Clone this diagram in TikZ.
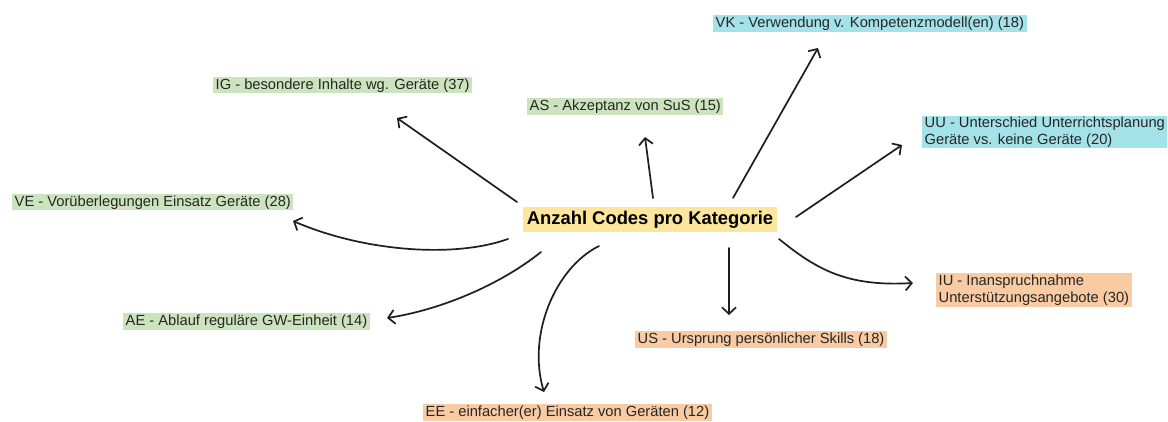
\documentclass[tikz,border=0pt]{standalone}
\usepackage{fontspec}
\setmainfont{Liberation Sans}
\usetikzlibrary{arrows.meta}

\definecolor{hlgreen}{HTML}{CCE4BE}
\definecolor{hlcyan}{HTML}{A4E2EA}
\definecolor{hlorange}{HTML}{F8CBA2}
\definecolor{hlyellow}{HTML}{FDE59C}
\definecolor{inktext}{HTML}{262626}
\definecolor{inkline}{HTML}{1E1E1E}

\newcommand\lblfont{\fontsize{14.7}{17}\selectfont}
\newcommand\hubfont{\fontsize{18.4}{21}\selectfont\bfseries}

\tikzset{
  lbl/.style={font=\lblfont, text=inktext, inner xsep=2.5pt, inner ysep=0pt,
    text height=12.5pt, text depth=4pt, anchor=west},
  lbltwo/.style={font=\lblfont, text=inktext, inner xsep=2.5pt, inner ysep=1pt,
    align=left, anchor=west},
  hub/.style={font=\hubfont, text=black, fill=hlyellow, inner sep=0pt,
    minimum width=254pt, minimum height=25pt},
  arr/.style={draw=inkline, line width=1.7pt, line cap=round,
    -{Straight Barb[length=6.5pt,width=14pt,line width=1.7pt]}}
}

\begin{document}
\begin{tikzpicture}[x=1pt,y=-1pt]
  \useasboundingbox (0,0) rectangle (1168,421);
  \fill[white] (0,0) rectangle (1168,421);

  % central category node
  \node[hub] (ctr) at (650,219.5) {Anzahl Codes pro Kategorie};

  % code labels
  \node[lbl, fill=hlgreen]  (ig) at (213,85)    {IG - besondere Inhalte wg. Geräte (37)};
  \node[lbl, fill=hlgreen]  (as) at (527,106.5) {AS - Akzeptanz von SuS (15)};
  \node[lbl, fill=hlcyan]   (vk) at (713,23.5)  {VK - Verwendung v. Kompetenzmodell(en) (18)};
  \node[lbltwo, fill=hlcyan, minimum height=32pt] (uu) at (922,132)
        {UU - Unterschied Unterrichtsplanung\\Geräte vs. keine Geräte (20)};
  \node[lbl, fill=hlgreen]  (ve) at (12,202)    {VE - Vorüberlegungen Einsatz Geräte (28)};
  \node[lbl, fill=hlgreen]  (ae) at (123,321.5) {AE - Ablauf reguläre GW-Einheit (14)};
  \node[lbl, fill=hlorange] (ee) at (423,412.5) {EE - einfacher(er) Einsatz von Geräten (12)};
  \node[lbl, fill=hlorange] (us) at (635,339.5) {US - Ursprung persönlicher Skills (18)};
  \node[lbltwo, fill=hlorange, minimum height=34pt] (iu) at (936,290)
        {IU - Inanspruchnahme\\Unterstützungsangebote (30)};

  % straight connectors
  \draw[arr] ([shift={(-133,-17.5)}]ctr.center) -- ([shift={(184,33)}]ig.west);
  \draw[arr] ([shift={(3,-21.5)}]ctr.center)    -- ([shift={(118,30.5)}]as.west);
  \draw[arr] ([shift={(83,-21.5)}]ctr.center)   -- ([shift={(105,24.5)}]vk.west);
  \draw[arr] ([shift={(146,-2.5)}]ctr.center)   -- ([shift={(-20,13)}]uu.west);
  \draw[arr] ([shift={(79,28.5)}]ctr.center)    -- ([shift={(94,-24.5)}]us.west);

  % curved connectors
  \draw[arr] ([shift={(-142,19.5)}]ctr.center)
    .. controls +(-53,19) and +(72,31) .. ([shift={(281,19)}]ve.west);
  \draw[arr] ([shift={(-109,32.5)}]ctr.center)
    .. controls +(-41,33) and +(53,-8) .. ([shift={(264,-3.5)}]ae.west);
  \draw[arr] ([shift={(-51,26.5)}]ctr.center)
    .. controls +(-44,22) and +(-17,-57) .. ([shift={(121,-20.5)}]ee.west);
  \draw[arr] ([shift={(129,19.5)}]ctr.center)
    .. controls +(36,29) and +(-68,4) .. ([shift={(-23,-7)}]iu.west);
\end{tikzpicture}
\end{document}
